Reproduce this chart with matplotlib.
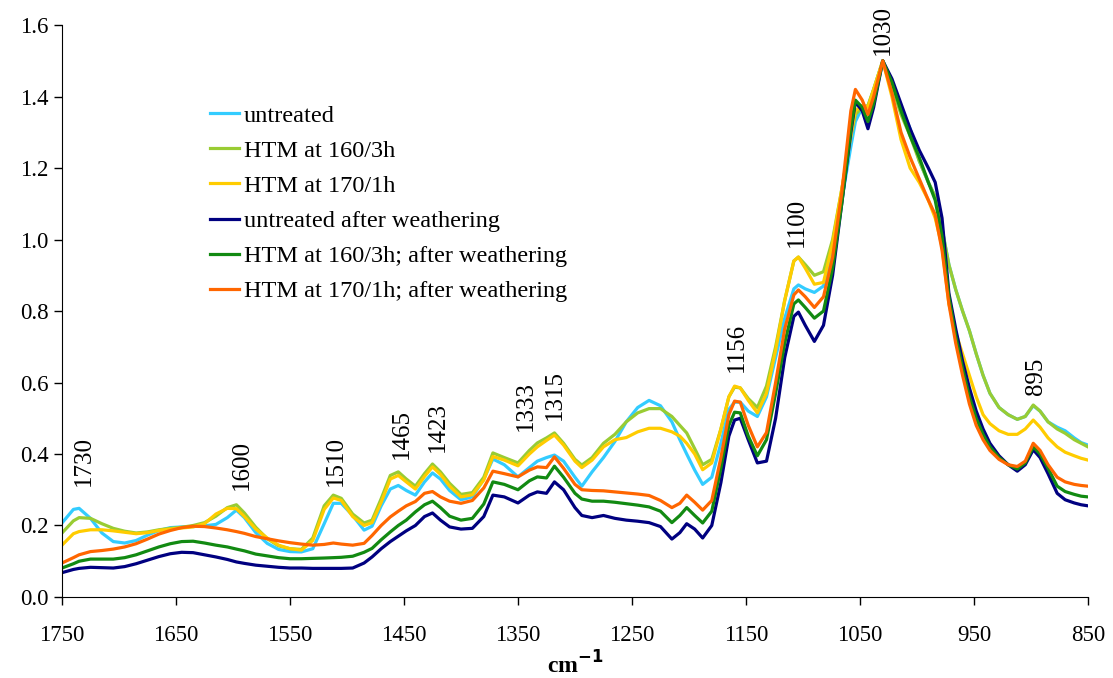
import numpy as np
from matplotlib import pyplot as plt

plt.rcParams['font.family'] = ['Liberation Serif', 'DejaVu Serif']

# wavenumber grid (cm-1)
wn = [1750, 1740, 1735, 1725, 1715, 1705, 1695, 1685, 1675, 1665, 1655, 1645, 1635, 1625, 1615, 1605, 1597, 1590, 1580, 1570, 1560, 1550,
      1540, 1530, 1520, 1512, 1505, 1495, 1485, 1478, 1470, 1462,
      1455, 1448, 1440, 1432, 1425, 1418, 1410, 1400, 1390, 1380,
      1372, 1362, 1350, 1340, 1333, 1325, 1318, 1310, 1300, 1294,
      1285, 1275, 1265, 1255, 1245, 1235, 1225, 1215, 1208, 1202,
      1195, 1188, 1180, 1172, 1165, 1160, 1155, 1148, 1140, 1132,
      1124, 1116, 1108, 1104, 1098, 1090, 1082, 1074, 1066, 1058,
      1054, 1048, 1043, 1038, 1030, 1022, 1014, 1006, 998, 990,
      984, 978, 972, 966, 960, 954, 948, 942, 936, 928,
      920, 912, 905, 898, 892, 885, 877, 870, 862, 856,
      850]

untreated = [0.207, 0.245, 0.248, 0.22, 0.179, 0.155, 0.151, 0.158, 0.173, 0.186, 0.194, 0.196, 0.197, 0.199, 0.203, 0.222, 0.243, 0.222, 0.18, 0.15, 0.133, 0.127,
             0.126, 0.135, 0.205, 0.262, 0.262, 0.228, 0.187, 0.198, 0.255, 0.302,
             0.312, 0.298, 0.285, 0.322, 0.347, 0.33, 0.298, 0.272, 0.28, 0.33,
             0.386, 0.37, 0.336, 0.362, 0.38, 0.39, 0.397, 0.38, 0.335, 0.31,
             0.35, 0.39, 0.435, 0.49, 0.53, 0.55, 0.535, 0.49, 0.44, 0.40,
             0.355, 0.315, 0.335, 0.43, 0.525, 0.545, 0.545, 0.52, 0.505, 0.56,
             0.67, 0.78, 0.862, 0.873, 0.862, 0.852, 0.87, 0.98, 1.11, 1.26,
             1.33, 1.37, 1.372, 1.42, 1.50, 1.44, 1.37, 1.31, 1.22, 1.16,
             1.12, 1.03, 0.93, 0.86, 0.80, 0.745, 0.68, 0.62, 0.57, 0.53,
             0.51, 0.497, 0.505, 0.535, 0.52, 0.49, 0.475, 0.465, 0.445, 0.432,
             0.425]

htm160 = [0.179, 0.213, 0.222, 0.22, 0.205, 0.192, 0.184, 0.179, 0.182, 0.188, 0.192, 0.195, 0.2, 0.208, 0.226, 0.25, 0.258, 0.235, 0.195, 0.163, 0.143, 0.135,
          0.133, 0.165, 0.255, 0.285, 0.276, 0.232, 0.207, 0.215, 0.275, 0.34,
          0.35, 0.33, 0.31, 0.345, 0.372, 0.35, 0.318, 0.287, 0.292, 0.335,
          0.403, 0.39, 0.375, 0.41, 0.431, 0.445, 0.459, 0.43, 0.385, 0.369,
          0.39, 0.43, 0.455, 0.49, 0.515, 0.527, 0.527, 0.505, 0.48, 0.459,
          0.415, 0.37, 0.385, 0.47, 0.56, 0.587, 0.585, 0.555, 0.53, 0.59,
          0.70, 0.83, 0.94, 0.951, 0.93, 0.90, 0.91, 1.0, 1.14, 1.29,
          1.35, 1.37, 1.375, 1.42, 1.50, 1.43, 1.35, 1.29, 1.22, 1.16,
          1.12, 1.03, 0.93, 0.86, 0.80, 0.745, 0.68, 0.62, 0.57, 0.53,
          0.51, 0.497, 0.505, 0.537, 0.52, 0.49, 0.47, 0.458, 0.44, 0.43,
          0.42]

htm170 = [0.145, 0.177, 0.183, 0.188, 0.188, 0.185, 0.181, 0.177, 0.18, 0.186, 0.19, 0.193, 0.196, 0.205, 0.232, 0.248, 0.247, 0.225, 0.19, 0.165, 0.145, 0.135,
          0.131, 0.158, 0.245, 0.277, 0.27, 0.225, 0.2, 0.208, 0.265, 0.33,
          0.34, 0.322, 0.302, 0.337, 0.364, 0.343, 0.31, 0.28, 0.286, 0.327,
          0.393, 0.383, 0.367, 0.40, 0.42, 0.438, 0.453, 0.425, 0.38, 0.362,
          0.383, 0.42, 0.44, 0.446, 0.462, 0.472, 0.472, 0.462, 0.45, 0.43,
          0.40, 0.356, 0.375, 0.47, 0.56, 0.59, 0.585, 0.55, 0.515, 0.57,
          0.69, 0.83, 0.94, 0.951, 0.92, 0.875, 0.88, 0.99, 1.14, 1.29,
          1.36, 1.375, 1.37, 1.42, 1.50, 1.40, 1.28, 1.20, 1.16, 1.11,
          1.06, 0.98, 0.82, 0.74, 0.68, 0.62, 0.56, 0.51, 0.485, 0.465,
          0.455, 0.455, 0.47, 0.495, 0.475, 0.445, 0.42, 0.405, 0.395, 0.388,
          0.383]

untreated_w = [0.068, 0.077, 0.08, 0.083, 0.082, 0.081, 0.085, 0.093, 0.103, 0.113, 0.121, 0.125, 0.124, 0.118, 0.112, 0.105, 0.098, 0.094, 0.089, 0.086, 0.083, 0.081,
               0.081, 0.08, 0.08, 0.08, 0.08, 0.081, 0.095, 0.112, 0.135, 0.155,
               0.17, 0.185, 0.2, 0.225, 0.235, 0.215, 0.196, 0.19, 0.192, 0.225,
               0.285, 0.28, 0.263, 0.285, 0.294, 0.29, 0.322, 0.3, 0.25, 0.228,
               0.222, 0.228, 0.22, 0.215, 0.212, 0.208, 0.197, 0.162, 0.18, 0.205,
               0.19, 0.165, 0.2, 0.32, 0.45, 0.495, 0.5, 0.44, 0.375, 0.38,
               0.5, 0.67, 0.785, 0.797, 0.76, 0.715, 0.76, 0.90, 1.10, 1.30,
               1.385, 1.36, 1.31, 1.37, 1.50, 1.45, 1.38, 1.31, 1.25, 1.20,
               1.16, 1.06, 0.85, 0.75, 0.66, 0.585, 0.52, 0.47, 0.43, 0.395,
               0.37, 0.352, 0.37, 0.412, 0.39, 0.345, 0.29, 0.272, 0.263, 0.258,
               0.255]

htm160_w = [0.081, 0.093, 0.1, 0.106, 0.106, 0.106, 0.11, 0.118, 0.129, 0.14, 0.149, 0.155, 0.156, 0.151, 0.145, 0.14, 0.134, 0.129, 0.12, 0.115, 0.11, 0.107,
            0.107, 0.108, 0.109, 0.11, 0.111, 0.114, 0.125, 0.136, 0.16, 0.182,
            0.2, 0.215, 0.238, 0.258, 0.268, 0.25, 0.226, 0.215, 0.22, 0.26,
            0.322, 0.315, 0.30, 0.325, 0.336, 0.333, 0.366, 0.335, 0.29, 0.274,
            0.268, 0.268, 0.265, 0.261, 0.257, 0.252, 0.24, 0.208, 0.228, 0.25,
            0.228, 0.207, 0.24, 0.36, 0.48, 0.517, 0.515, 0.45, 0.395, 0.44,
            0.57, 0.71, 0.82, 0.831, 0.81, 0.78, 0.80, 0.92, 1.10, 1.31,
            1.39, 1.37, 1.33, 1.38, 1.50, 1.44, 1.36, 1.29, 1.23, 1.16,
            1.11, 1.01, 0.84, 0.73, 0.64, 0.56, 0.50, 0.455, 0.42, 0.39,
            0.37, 0.358, 0.375, 0.42, 0.40, 0.36, 0.31, 0.295, 0.287, 0.282,
            0.28]

htm170_w = [0.095, 0.11, 0.118, 0.127, 0.13, 0.134, 0.14, 0.149, 0.162, 0.176, 0.186, 0.194, 0.198, 0.197, 0.193, 0.188, 0.183, 0.178, 0.169, 0.163, 0.157, 0.152,
            0.148, 0.145, 0.147, 0.151, 0.148, 0.145, 0.15, 0.172, 0.2, 0.224,
            0.24, 0.255, 0.267, 0.29, 0.295, 0.28, 0.268, 0.262, 0.27, 0.305,
            0.352, 0.345, 0.336, 0.355, 0.364, 0.362, 0.392, 0.36, 0.315, 0.30,
            0.298, 0.297, 0.294, 0.291, 0.288, 0.284, 0.27, 0.25, 0.262, 0.285,
            0.265, 0.243, 0.27, 0.39, 0.51, 0.548, 0.545, 0.48, 0.42, 0.46,
            0.60, 0.75, 0.845, 0.859, 0.84, 0.81, 0.84, 0.95, 1.13, 1.36,
            1.42, 1.39, 1.35, 1.40, 1.50, 1.41, 1.30, 1.23, 1.17, 1.11,
            1.07, 0.97, 0.82, 0.71, 0.62, 0.54, 0.48, 0.44, 0.41, 0.385,
            0.37, 0.365, 0.38, 0.43, 0.41, 0.37, 0.335, 0.322, 0.315, 0.312,
            0.31]

labels = ['untreated', 'HTM at 160/3h', 'HTM at 170/1h', 'untreated after weathering',
          'HTM at 160/3h; after weathering', 'HTM at 170/1h; after weathering']
colors = ['#33CCFF', '#99CC33', '#FFCC00', '#000080', '#128A12', '#FF6600']

peak_names = ['1730', '1600', '1510', '1465', '1423', '1333', '1315', '1156', '1100', '1030', '895']

fig = plt.figure(figsize=(11.13, 6.78), dpi=100)
ax = fig.add_axes([0.0557, 0.1195, 0.9218, 0.8435])

series = [untreated, htm160, htm170, untreated_w, htm160_w, htm170_w]
for s, lab, c in zip(series, labels, colors):
    ax.plot(wn, s, color=c, lw=2.3, label=lab, solid_joinstyle='round')

# where the peak labels sit (wavenumber, absorbance at text bottom)
peak_pos = [(1731, 0.31), (1592, 0.30), (1510, 0.31), (1452, 0.385), (1420, 0.405),
            (1343, 0.465), (1318, 0.495), (1158, 0.63), (1105, 0.98), (1030, 1.515), (896, 0.565)]
for name, (px, py) in zip(peak_names, peak_pos):
    ax.text(px, py, name, rotation=90, ha='center', va='bottom', fontsize=18)

ax.set_xlim(1750, 850)
ax.set_ylim(0, 1.6)
ax.set_xticks(np.arange(1750, 849, -100))
ax.set_yticks(np.arange(0, 1.61, 0.2))
ax.yaxis.set_major_formatter(plt.FormatStrFormatter('%.1f'))
ax.tick_params(direction='out', length=6, labelsize=16.5, width=1)
ax.tick_params(axis='x', pad=14)
for sp in ['top', 'right']:
    ax.spines[sp].set_visible(False)
ax.set_xlabel('cm$^{\\mathbf{-1}}$', fontsize=17, fontweight='bold', labelpad=4)

ax.legend(loc='upper left', bbox_to_anchor=(0.144, 0.861), frameon=False, fontsize=17.5,
          handlelength=1.22, handletextpad=0.17, labelspacing=0.54, borderpad=0, borderaxespad=0)

plt.savefig('out.png', dpi=100)
